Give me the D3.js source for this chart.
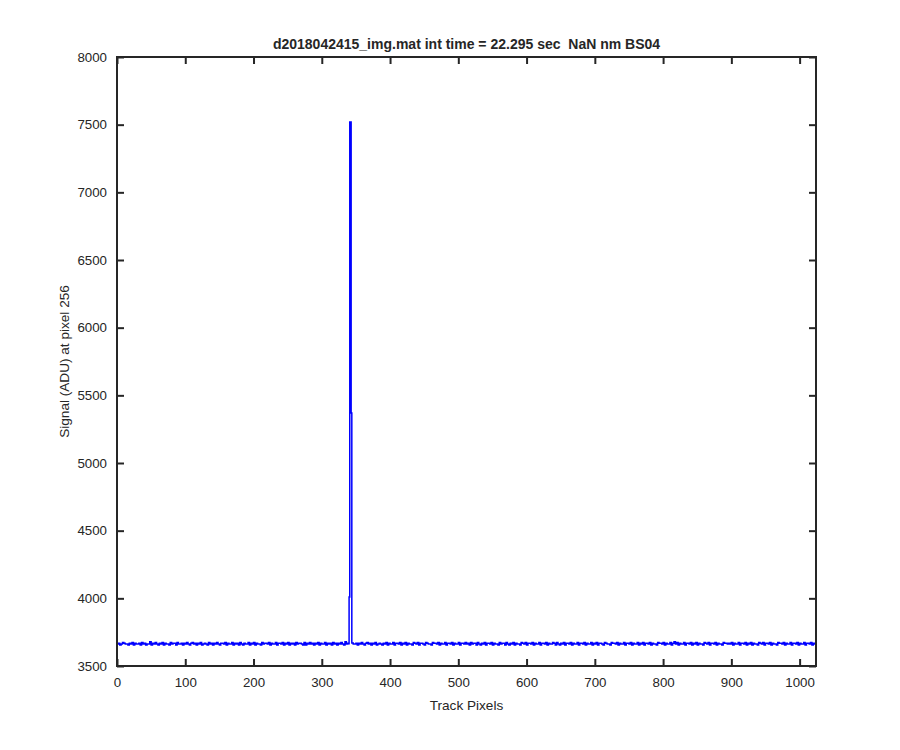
<!DOCTYPE html>
<html>
<head>
<meta charset="utf-8">
<script src="https://cdn.jsdelivr.net/npm/d3@7"></script>
<style>
  body { margin: 0; background: #fff; }
  svg text { font-family: "Liberation Sans", Arial, sans-serif; fill: #262626; }
</style>
</head>
<body>
<div id="chart"></div>
<script>
// Chart text
const titleText = "d2018042415_img.mat int time = 22.295 sec  NaN nm BS04";
const xLabel = "Track Pixels";
const yLabel = "Signal (ADU) at pixel 256";

// Ticks
const xTicks = [0, 100, 200, 300, 400, 500, 600, 700, 800, 900, 1000];
const yTicks = [3500, 4000, 4500, 5000, 5500, 6000, 6500, 7000, 7500, 8000];

// Spike near track pixel 341 (pixel, ADU)
const spikePixels = [339, 340, 341, 342, 343, 344];
const spikeValues = [3664, 4010, 7520, 7520, 5370, 3670];

// Background noise: one digit per 2 track pixels,
// value = 3638 + 6 * digit
const noiseBase = 3638;
const noiseStep = 6;
const noiseDigits =
  "4534654435463544536453447354643546354436455364453546435645354634" +
  "5436453546435546354463545364354463546354436455463544635546354635" +
  "4536455436354645354635446354536453546437455364453546435645354634" +
  "5435463544635546354635443654635543654436554635446355463544635546" +
  "4536455364354635546354436455364354635443654635546354463554635446" +
  "5364354635546354463554635446354635543654436554635446355463544635" +
  "4635546354436554635446357463544635546354635443654635546354436554" +
  "5463544635546354635443654635546354436554635446355463544635546354" +
  "4";

// Build the series
const data = [];
for (let i = 0; i < noiseDigits.length; i++) {
  const px = i * 2;
  if (px >= spikePixels[0] && px <= spikePixels[spikePixels.length - 1]) continue;
  data.push([px, noiseBase + noiseStep * (+noiseDigits[i])]);
}
spikePixels.forEach((p, i) => data.push([p, spikeValues[i]]));
data.sort((a, b) => a[0] - b[0]);

// Layout
const width = 900, height = 750;
const plotLeft = 117, plotRight = 816, plotTop = 57, plotBottom = 666;

const svg = d3.select("#chart").append("svg")
  .attr("width", width)
  .attr("height", height);

const x = d3.scaleLinear().domain([0, 1024]).range([plotLeft, plotRight]);
const y = d3.scaleLinear().domain([3500, 8000]).range([plotBottom, plotTop]);

// Line
const line = d3.line()
  .x(d => x(d[0]))
  .y(d => y(d[1]))
  .curve(d3.curveStepAfter);
svg.append("path")
  .datum(data)
  .attr("fill", "none")
  .attr("stroke", "#0000ff")
  .attr("stroke-width", 1.5)
  .attr("d", line);

// Axes (MATLAB style: inward ticks on all sides)
const tickLen = 7;
const axisColor = "#262626";
const fmt = d3.format("d");

function styleAxis(g) {
  g.select(".domain").remove();
  g.selectAll(".tick line").attr("stroke", axisColor).attr("stroke-width", 2);
  g.selectAll(".tick text").style("font-size", "13.3px");
}

svg.append("g")
  .attr("transform", `translate(0,${plotBottom})`)
  .call(d3.axisBottom(x).tickValues(xTicks).tickSize(-tickLen).tickPadding(12).tickFormat(fmt))
  .call(styleAxis);

svg.append("g")
  .attr("transform", `translate(0,${plotTop})`)
  .call(d3.axisTop(x).tickValues(xTicks).tickSize(-tickLen).tickFormat(""))
  .call(styleAxis);

svg.append("g")
  .attr("transform", `translate(${plotLeft},0)`)
  .call(d3.axisLeft(y).tickValues(yTicks).tickSize(-tickLen).tickPadding(10).tickFormat(fmt))
  .call(styleAxis);

svg.append("g")
  .attr("transform", `translate(${plotRight},0)`)
  .call(d3.axisRight(y).tickValues(yTicks).tickSize(-tickLen).tickFormat(""))
  .call(styleAxis);

// Box
svg.append("rect")
  .attr("x", plotLeft)
  .attr("y", plotTop)
  .attr("width", plotRight - plotLeft)
  .attr("height", plotBottom - plotTop)
  .attr("fill", "none")
  .attr("stroke", axisColor)
  .attr("stroke-width", 2);

// Title and labels
svg.append("text")
  .attr("x", (plotLeft + plotRight) / 2)
  .attr("y", 49)
  .attr("text-anchor", "middle")
  .style("font-size", "14px")
  .style("font-weight", "bold")
  .style("white-space", "pre")
  .text(titleText);

svg.append("text")
  .attr("x", (plotLeft + plotRight) / 2)
  .attr("y", 710)
  .attr("text-anchor", "middle")
  .style("font-size", "13.6px")
  .text(xLabel);

svg.append("text")
  .attr("transform", `translate(69,${(plotTop + plotBottom) / 2}) rotate(-90)`)
  .attr("text-anchor", "middle")
  .style("font-size", "13.6px")
  .text(yLabel);
</script>
</body>
</html>
